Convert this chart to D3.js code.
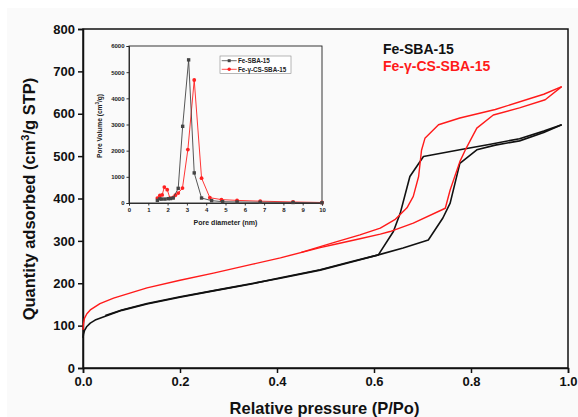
<!DOCTYPE html>
<html>
<head>
<meta charset="utf-8">
<script src="https://cdn.jsdelivr.net/npm/d3@7"></script>
<style>
  body { margin: 0; background: #fff; }
  text { font-family: "Liberation Sans", Arial, sans-serif; }
</style>
</head>
<body>
<div id="chart"></div>
<script>
// isotherm data (P/Po, cm3/g STP)
const feAdsP = [0, 0.001, 0.003, 0.008, 0.015, 0.025, 0.046, 0.08, 0.132, 0.2, 0.269, 0.35, 0.407, 0.489, 0.55, 0.609, 0.66, 0.712, 0.742, 0.757, 0.777, 0.812, 0.85, 0.9, 0.95, 0.987];
const feAdsV = [71, 80, 88, 98, 106, 113, 122, 136, 151, 167, 182, 199, 213, 232, 250, 267, 283, 302, 354, 389, 483, 515, 526, 536, 556, 574];
const feDesP = [0.987, 0.95, 0.9, 0.84, 0.777, 0.702, 0.674, 0.654, 0.64, 0.609, 0.55, 0.489, 0.407, 0.3, 0.2, 0.132, 0.08, 0.046];
const feDesV = [574, 559, 541, 528, 515, 499, 452, 365, 322, 267, 249, 231, 212, 189, 168, 152, 137, 124];

const csAdsP = [0, 0.001, 0.003, 0.008, 0.015, 0.035, 0.063, 0.1, 0.132, 0.2, 0.269, 0.35, 0.407, 0.489, 0.52, 0.571, 0.613, 0.633, 0.681, 0.747, 0.757, 0.777, 0.788, 0.812, 0.846, 0.9, 0.953, 0.987];
const csAdsV = [90, 104, 117, 128, 137, 152, 165, 178, 189, 207, 224, 245, 260, 284, 292, 305, 316, 322, 342, 377, 420, 487, 514, 566, 597, 614, 633, 664];
const csDesP = [0.987, 0.95, 0.922, 0.85, 0.777, 0.733, 0.705, 0.698, 0.692, 0.681, 0.668, 0.643, 0.613, 0.571, 0.52, 0.45];
const csDesV = [664, 646, 636, 610, 590, 574, 542, 514, 452, 405, 378, 350, 330, 314, 297, 273];

// pore size distribution (nm, cm3/g)
const feDiam = [1.47, 1.6, 1.69, 1.86, 2.03, 2.15, 2.29, 2.55, 2.78, 3.09, 3.38, 3.76, 4.28, 4.85, 5.6, 6.8, 8.5, 10];
const feVol = [100, 160, 150, 150, 165, 170, 190, 560, 2930, 5470, 1150, 190, 90, 50, 40, 30, 20, 10];
const csDiam = [1.47, 1.6, 1.72, 1.83, 1.98, 2.12, 2.29, 2.4, 2.55, 2.77, 3.05, 3.38, 3.76, 4.19, 4.79, 5.6, 6.8, 8.5, 10];
const csVol = [190, 290, 310, 610, 510, 190, 216, 300, 380, 571, 2040, 4700, 950, 202, 130, 100, 70, 40, 20];

const xTicks = [0, 0.2, 0.4, 0.6, 0.8, 1.0];
const yTicks = [0, 100, 200, 300, 400, 500, 600, 700, 800];
const insetXTicks = [0, 1, 2, 3, 4, 5, 6, 7, 8, 9, 10];
const insetYTicks = [0, 1000, 2000, 3000, 4000, 5000, 6000];

const W = 578, H = 417;
const margin = { top: 29, right: 10, bottom: 49, left: 83 };
const width = W - margin.left - margin.right;
const height = H - margin.top - margin.bottom;

const svg = d3.select("#chart").append("svg")
  .attr("width", W)
  .attr("height", H);

svg.append("rect")
  .attr("x", 7).attr("y", 8)
  .attr("width", W - 7).attr("height", H - 8)
  .attr("fill", "#fafafa");

const g = svg.append("g")
  .attr("transform", `translate(${margin.left}, ${margin.top})`);

const x = d3.scaleLinear().domain([0, 1]).range([0, width]);
const y = d3.scaleLinear().domain([0, 800]).range([height, 0]);

// frame
g.append("rect")
  .attr("width", width).attr("height", height)
  .attr("fill", "none").attr("stroke", "#111").attr("stroke-width", 1.5);

const xAxis = g.append("g")
  .attr("transform", `translate(0, ${height})`)
  .call(d3.axisBottom(x).tickValues(xTicks).tickFormat(d3.format(".1f")).tickSize(5).tickPadding(4));
const yAxis = g.append("g")
  .call(d3.axisLeft(y).tickValues(yTicks).tickSize(5).tickPadding(3));

[xAxis, yAxis].forEach(a => {
  a.select(".domain").attr("stroke", "#111").attr("stroke-width", 1.5);
  a.selectAll(".tick line").attr("stroke", "#111").attr("stroke-width", 1.5);
  a.selectAll(".tick text")
    .attr("fill", "#111")
    .style("font-size", "13px")
    .style("font-weight", "bold")
    .style("font-family", "Liberation Sans, Arial, sans-serif");
});

const line = d3.line().x(d => x(d[0])).y(d => y(d[1]));
const zip = (a, b) => a.map((v, i) => [v, b[i]]);

const curves = [
  { p: feAdsP, v: feAdsV, color: "#111", w: 1.6 },
  { p: feDesP, v: feDesV, color: "#111", w: 1.6 },
  { p: csAdsP, v: csAdsV, color: "#ff1a1a", w: 1.4 },
  { p: csDesP, v: csDesV, color: "#ff1a1a", w: 1.4 }
];
g.selectAll(".iso")
  .data(curves)
  .enter()
  .append("path")
  .attr("class", "iso")
  .attr("d", d => line(zip(d.p, d.v)))
  .attr("fill", "none")
  .attr("stroke", d => d.color)
  .attr("stroke-width", d => d.w)
  .attr("stroke-linejoin", "round");

// axis labels
svg.append("text")
  .attr("x", margin.left + width / 2 - 1)
  .attr("y", 413.5)
  .attr("text-anchor", "middle")
  .style("font-size", "16.5px")
  .style("font-weight", "bold")
  .attr("fill", "#111")
  .text("Relative pressure (P/Po)");

const yLab = svg.append("text")
  .attr("transform", "translate(34.5, 199) rotate(-90)")
  .attr("text-anchor", "middle")
  .style("font-size", "16.5px")
  .style("font-weight", "bold")
  .attr("fill", "#111");
yLab.append("tspan").text("Quantity adsorbed (cm");
yLab.append("tspan").attr("dy", -6).style("font-size", "11px").text("3");
yLab.append("tspan").attr("dy", 6).text("/g STP)");

// sample labels
svg.append("text").attr("x", 383).attr("y", 54)
  .style("font-size", "14px").style("font-weight", "bold").attr("fill", "#111")
  .text("Fe-SBA-15");
svg.append("text").attr("x", 383).attr("y", 71)
  .style("font-size", "14px").style("font-weight", "bold").attr("fill", "#ff1a1a")
  .text("Fe-γ-CS-SBA-15");

// inset
const inset = { left: 129, top: 46, right: 322, bottom: 203 };
const ix = d3.scaleLinear().domain([0, 10]).range([inset.left, inset.right]);
const iy = d3.scaleLinear().domain([0, 6000]).range([inset.bottom, inset.top]);
const ig = svg.append("g");

ig.append("rect")
  .attr("x", inset.left).attr("y", inset.top)
  .attr("width", inset.right - inset.left).attr("height", inset.bottom - inset.top)
  .attr("fill", "none").attr("stroke", "#222").attr("stroke-width", 0.9);

const ixAxis = ig.append("g")
  .attr("transform", `translate(0, ${inset.bottom})`)
  .call(d3.axisBottom(ix).tickValues(insetXTicks).tickFormat(d3.format("d")).tickSize(2.5).tickPadding(2));
const iyAxis = ig.append("g")
  .attr("transform", `translate(${inset.left}, 0)`)
  .call(d3.axisLeft(iy).tickValues(insetYTicks).tickFormat(d3.format("d")).tickSize(2.5).tickPadding(2));

[ixAxis, iyAxis].forEach(a => {
  a.select(".domain").attr("stroke", "#222").attr("stroke-width", 0.9);
  a.selectAll(".tick line").attr("stroke", "#222").attr("stroke-width", 0.9);
  a.selectAll(".tick text")
    .attr("fill", "#222")
    .style("font-size", "6px")
    .style("font-weight", "bold")
    .style("font-family", "Liberation Sans, Arial, sans-serif");
});

ig.append("text")
  .attr("x", (inset.left + inset.right) / 2)
  .attr("y", 225)
  .attr("text-anchor", "middle")
  .style("font-size", "7px").style("font-weight", "bold").attr("fill", "#222")
  .text("Pore diameter (nm)");

const iyLab = ig.append("text")
  .attr("transform", "translate(101.5, 126) rotate(-90)")
  .attr("text-anchor", "middle")
  .style("font-size", "6.6px").style("font-weight", "bold").attr("fill", "#222");
iyLab.append("tspan").text("Pore Volume (cm");
iyLab.append("tspan").attr("dy", -2.5).style("font-size", "4.5px").text("3");
iyLab.append("tspan").attr("dy", 2.5).text("/g)");

const iline = d3.line().x(d => ix(d[0])).y(d => iy(d[1]));
const feColor = "#444";
const csColor = "#ff2020";

ig.append("path")
  .attr("d", iline(zip(csDiam, csVol)))
  .attr("fill", "none").attr("stroke", csColor).attr("stroke-width", 0.9);
ig.selectAll(".cspt")
  .data(zip(csDiam, csVol))
  .enter().append("circle")
  .attr("class", "cspt")
  .attr("cx", d => ix(d[0])).attr("cy", d => iy(d[1]))
  .attr("r", 1.9).attr("fill", csColor);

ig.append("path")
  .attr("d", iline(zip(feDiam, feVol)))
  .attr("fill", "none").attr("stroke", feColor).attr("stroke-width", 0.9);
ig.selectAll(".fept")
  .data(zip(feDiam, feVol))
  .enter().append("rect")
  .attr("class", "fept")
  .attr("x", d => ix(d[0]) - 1.7).attr("y", d => iy(d[1]) - 1.7)
  .attr("width", 3.4).attr("height", 3.4).attr("fill", feColor);

// inset legend
const leg = ig.append("g").attr("transform", "translate(220, 56)");
leg.append("rect")
  .attr("width", 71).attr("height", 17.5)
  .attr("fill", "#fff").attr("stroke", "#888").attr("stroke-width", 0.6);
const legItems = [
  { label: "Fe-SBA-15", color: feColor, shape: "square" },
  { label: "Fe-γ-CS-SBA-15", color: csColor, shape: "circle" }
];
const li = leg.selectAll(".li")
  .data(legItems)
  .enter().append("g")
  .attr("class", "li")
  .attr("transform", (d, i) => `translate(0, ${4.7 + i * 8.6})`);
li.append("line")
  .attr("x1", 1.7).attr("x2", 16.7)
  .attr("stroke", d => d.color).attr("stroke-width", 0.8);
li.filter(d => d.shape === "square").append("rect")
  .attr("x", 7.7).attr("y", -1.5).attr("width", 3).attr("height", 3)
  .attr("fill", d => d.color);
li.filter(d => d.shape === "circle").append("circle")
  .attr("cx", 9.2).attr("r", 1.7)
  .attr("fill", d => d.color);
li.append("text")
  .attr("x", 18).attr("y", 2.2)
  .style("font-size", "6.3px").style("font-weight", "bold").attr("fill", "#222")
  .text(d => d.label);
</script>
</body>
</html>
